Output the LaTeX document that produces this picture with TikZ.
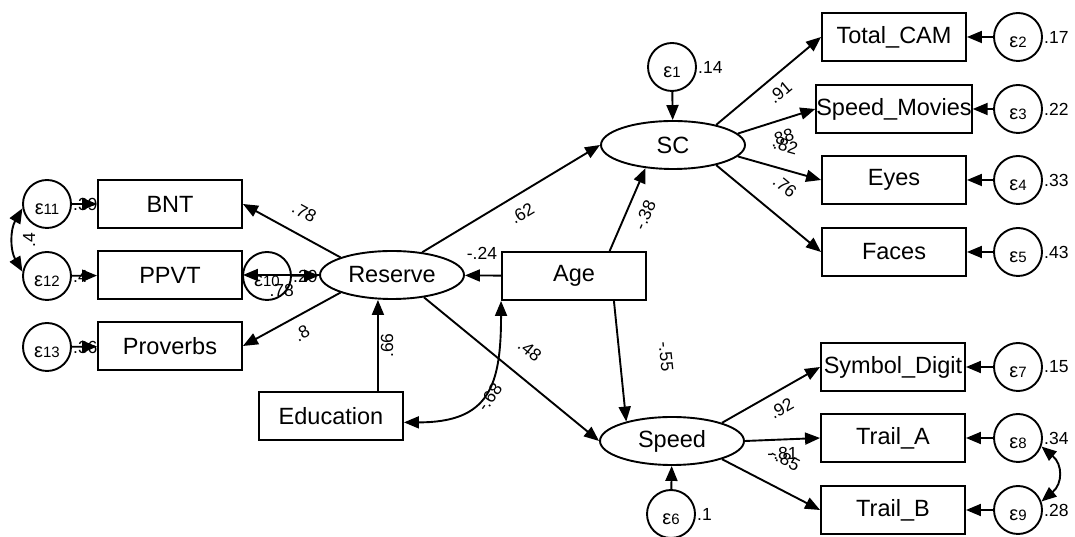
\documentclass[tikz,border=0pt]{standalone}
\usepackage{fontspec}
\setmainfont{Liberation Sans}
\usetikzlibrary{shapes.geometric,arrows.meta}
\newcommand{\errlab}[1]{{\fontsize{20}{20}\selectfont ε}{\fontsize{15}{15}\selectfont #1}}

\begin{document}
\begin{tikzpicture}[x=1pt,y=1pt,
  box/.style={draw,line width=1.9pt,minimum width=144pt,minimum height=48pt,inner sep=0pt,font=\fontsize{23.5}{27}\selectfont},
  lat/.style={draw,ellipse,line width=1.9pt,minimum width=144pt,minimum height=48pt,inner sep=0pt,font=\fontsize{23.5}{27}\selectfont},
  err/.style={draw,circle,line width=1.9pt,minimum size=48pt,inner sep=0pt,text height=22pt,text depth=0pt},
  lbl/.style={font=\fontsize{17.5}{18}\selectfont,inner sep=1pt},
  arr/.style={-{Triangle[length=15pt,width=12pt]},line width=1.9pt},
  cov/.style={{Triangle[length=15pt,width=12pt]}-{Triangle[length=15pt,width=12pt]},line width=1.9pt}]
\useasboundingbox (0,0) rectangle (1075,537);
% Reserve side
\node[err,label={[lbl]right:.39}] (E11) at (47,333) {\errlab{11}};
\node[box] (BNT) at (170,333) {BNT};
\node[err,label={[lbl]right:.4}] (E12) at (47,261) {\errlab{12}};
\node[box] (PPVT) at (170,262) {PPVT};
\node[err,label={[lbl]right:.36}] (E13) at (47,190) {\errlab{13}};
\node[box] (Prov) at (170,191) {Proverbs};
\node[err,label={[lbl]right:.29}] (E10) at (267,261) {\errlab{10}};
\node[lat] (Res) at (392,262) {Reserve};
\node[box] (Edu) at (331,121) {Education};
\node[box] (Age) at (574,261) {Age};
% SC side
\node[lat] (SC) at (673,392) {SC};
\node[err,label={[lbl]right:.14}] (E1) at (672,470) {\errlab{1}};
\node[box] (TC) at (894,500) {Total\_CAM};
\node[box] (SM) at (894,428) {Speed\_Movies};
\node[box] (Eyes) at (894,357) {Eyes};
\node[box] (Faces) at (894,285) {Faces};
\node[err,label={[lbl]right:.17}] (E2) at (1018,500) {\errlab{2}};
\node[err,label={[lbl]right:.22}] (E3) at (1018,428) {\errlab{3}};
\node[err,label={[lbl]right:.33}] (E4) at (1018,357) {\errlab{4}};
\node[err,label={[lbl]right:.43}] (E5) at (1018,285) {\errlab{5}};
% Speed side
\node[lat] (Speed) at (672,96) {Speed};
\node[err,label={[lbl]right:.1}] (E6) at (671,23) {\errlab{6}};
\node[box] (SD) at (893,170) {Symbol\_Digit};
\node[box] (TA) at (893,99) {Trail\_A};
\node[box] (TB) at (893,27) {Trail\_B};
\node[err,label={[lbl]right:.15}] (E7) at (1018,170) {\errlab{7}};
\node[err,label={[lbl]right:.34}] (E8) at (1018,99) {\errlab{8}};
\node[err,label={[lbl]right:.28}] (E9) at (1018,27) {\errlab{9}};

% errors
\draw[arr] (E11) -- (BNT);
\draw[arr] (E12) -- (PPVT);
\draw[arr] (E13) -- (Prov);
\draw[arr] (E10) -- (Res);
\draw[arr] (E1) -- (SC);
\draw[arr] (E6) -- (Speed);
\draw[arr] (E2) -- (TC);
\draw[arr] (E3) -- (SM);
\draw[arr] (E4) -- (Eyes);
\draw[arr] (E5) -- (Faces);
\draw[arr] (E7) -- (SD);
\draw[arr] (E8) -- (TA);
\draw[arr] (E9) -- (TB);

% paths
\draw[arr] (Res.north west) -- node[lbl,pos=.48,sloped,above=14pt]{.78} (BNT.east);
\draw[arr] (Res) -- node[lbl,pos=.49,below=7pt]{.78} (PPVT);
\draw[arr] (Res.south west) -- node[lbl,pos=.48,sloped,below=9pt]{.8} (Prov.east);
\draw[arr] (Edu.28) -- node[lbl,midway,sloped,below=1pt]{.66} (Edu.28 |- Res.south);
\draw[arr] (Age) -- node[lbl,pos=.53,above=14pt]{-.24} (Res);
\draw[arr] (Res.37) -- node[lbl,pos=.51,sloped,below=10pt]{.62} (SC.west);
\draw[arr] (Res.-35) -- node[lbl,pos=.51,sloped,above=18pt]{.48} (Speed.west);
\draw[arr] (Age.35) -- node[lbl,pos=.52,sloped,below=10pt]{-.38} (SC.220);
\draw[arr] (Age.-32) -- node[lbl,pos=.5,sloped,above=38pt]{-.55} (Speed.157);
\draw[arr] (SC.25) -- node[lbl,pos=.51,sloped,below=8pt]{.91} (TC.west);
\draw[arr] (SC.10) -- node[lbl,pos=.5,sloped,below=9pt]{.88} (SM.west);
\draw[arr] (SC.-10) -- node[lbl,pos=.5,sloped,above=15pt]{.82} (Eyes.west);
\draw[arr] (SC.-25) -- node[lbl,pos=.49,sloped,above=19pt]{.76} (Faces.west);
\draw[arr] (Speed.20) -- node[lbl,pos=.52,sloped,below=9pt]{.92} (SD.west);
\draw[arr] (Speed.east) -- node[lbl,pos=.5,below=6pt]{-.81} (TA.west);
\draw[arr] (Speed.-20) -- node[lbl,pos=.51,sloped,above=21pt]{-.85} (TB.west);

% covariances
\draw[cov] (Edu.-5) to[out=0,in=-90,looseness=1.4] node[lbl,pos=.5,sloped,below=-2pt]{-.68} (Age.south west);
\draw[cov] (E12.170) to[out=120,in=240] node[lbl,midway,sloped,below=8pt]{.4} (E11.190);
\draw[cov] (E8.-20) to[out=-40,in=40,looseness=1.3] (E9.20);
\end{tikzpicture}
\end{document}
